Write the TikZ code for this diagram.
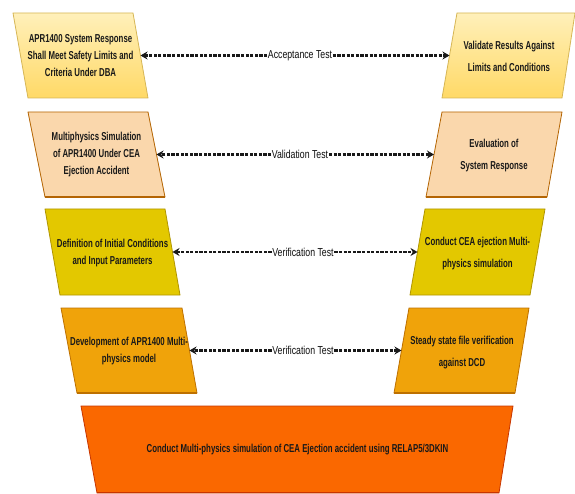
\documentclass[tikz,border=0pt]{standalone}
\usepackage{fontspec}
\setmainfont[FakeStretch=0.68]{Liberation Sans}
\newfontfamily\labfont[FakeStretch=0.76]{Liberation Sans}
\usetikzlibrary{arrows.meta}
\definecolor{yTop}{HTML}{FFF0BA}
\definecolor{yBot}{HTML}{FFD966}
\definecolor{yStroke}{HTML}{D6B656}
\definecolor{pFill}{HTML}{FAD7AC}
\definecolor{pStroke}{HTML}{B46504}
\definecolor{gFill}{HTML}{E3C800}
\definecolor{gStroke}{HTML}{B09500}
\definecolor{aFill}{HTML}{F0A30A}
\definecolor{aStroke}{HTML}{BD7000}
\definecolor{oFill}{HTML}{FA6800}
\definecolor{oStroke}{HTML}{C73500}
\tikzset{
  boxshape/.style={line width=0.8pt, line join=miter},
  btxt/.style={font=\fontsize{11.5}{17}\selectfont\bfseries, align=center, inner sep=0pt, text=black!90},
  rtxt/.style={font=\fontsize{11.5}{22}\selectfont\bfseries, align=center, inner sep=0pt, text=black!90},
  lab/.style={font=\labfont\fontsize{11.5}{14}\selectfont, fill=white, inner sep=0.6pt, text=black!95},
  conn/.style={-{Stealth[length=7pt,width=8pt]}, dash pattern=on 3.2pt off 1.4pt, line width=2.2pt, black!90},
  bottomedge/.style={line width=1.8pt}
}
\begin{document}
\begin{tikzpicture}[x=1pt,y=-1pt]
\useasboundingbox (0,0) rectangle (575,494);

% Row 1
\path[boxshape, draw=yStroke, top color=yTop, bottom color=yBot] (13,13) -- (133,13) -- (148,98) -- (28,98) -- cycle;
\path[boxshape, draw=yStroke, top color=yTop, bottom color=yBot] (457,13) -- (575,13) -- (562,98) -- (442,98) -- cycle;
\coordinate (e1L) at (140.5,55.5);
\coordinate (e1R) at (449.5,55.5);
\node[btxt] (t1L) at (80.5,55.5) {APR1400 System Response\\Shall Meet Safety Limits and\\Criteria Under DBA};
\node[rtxt] (t1R) at (509,56) {Validate Results Against\\Limits and Conditions};

% Row 2
\path[boxshape, draw=pStroke, fill=pFill] (28,112) -- (148,112) -- (165,197) -- (45,197) -- cycle;
\draw[bottomedge, pStroke] (45,197) -- (165,197);
\path[boxshape, draw=pStroke, fill=pFill] (442,112) -- (562,112) -- (547,197) -- (426,197) -- cycle;
\draw[bottomedge, pStroke] (426,197) -- (547,197);
\coordinate (e2L) at (156.5,154.5);
\coordinate (e2R) at (434,154.5);
\node[btxt] (t2L) at (96.5,154.5) {Multiphysics Simulation\\of APR1400 Under CEA\\Ejection Accident};
\node[rtxt] (t2R) at (494,156) {Evaluation of\\System Response};

% Row 3
\path[boxshape, draw=gStroke, fill=gFill] (45,209) -- (165,209) -- (180,295) -- (60,295) -- cycle;
\path[boxshape, draw=gStroke, fill=gFill] (425,209) -- (545,209) -- (530,295) -- (410,295) -- cycle;
\coordinate (e3L) at (172.5,252);
\coordinate (e3R) at (417.5,252);
\node[btxt] (t3L) at (112.5,253) {Definition of Initial Conditions\\and Input Parameters};
\node[rtxt] (t3R) at (477.5,254) {Conduct CEA ejection Multi-\\physics simulation};

% Row 4
\path[boxshape, draw=aStroke, fill=aFill] (61,308) -- (182,308) -- (197,393) -- (77,393) -- cycle;
\draw[bottomedge, aStroke] (77,393) -- (197,393);
\path[boxshape, draw=aStroke, fill=aFill] (409,308) -- (529,308) -- (515,393) -- (394,393) -- cycle;
\draw[bottomedge, aStroke] (394,393) -- (515,393);
\coordinate (e4L) at (189.5,350.5);
\coordinate (e4R) at (401.5,350.5);
\node[btxt] (t4L) at (129,351) {Development of APR1400 Multi-\\physics model};
\node[rtxt] (t4R) at (462,352.5) {Steady state file verification\\against DCD};

% Bottom
\path[boxshape, draw=oStroke, fill=oFill] (81,406) -- (513,406) -- (499,493) -- (97,493) -- cycle;
\draw[bottomedge, oStroke] (97,492.5) -- (499,492.5);
\node[btxt] (t5) at (297.5,449.5) {Conduct Multi-physics simulation of CEA Ejection accident using RELAP5/3DKIN};

% Labels and connectors
\node[lab] (l1) at (300,55.5) {Acceptance Test};
\node[lab] (l2) at (300,154.5) {Validation Test};
\node[lab] (l3) at (303,252) {Verification Test};
\node[lab] (l4) at (303,350.5) {Verification Test};
\foreach \i in {1,2,3,4}{
  \draw[conn] (l\i.west) -- (e\i L);
  \draw[conn] (l\i.east) -- (e\i R);
}
\end{tikzpicture}
\end{document}
